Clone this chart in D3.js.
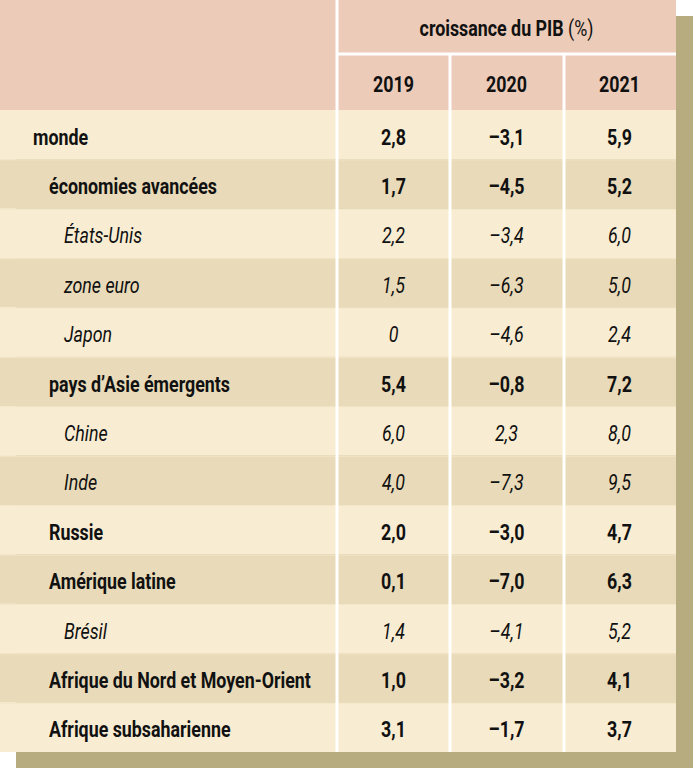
<!DOCTYPE html>
<html><head><meta charset="utf-8">
<script src="https://cdn.jsdelivr.net/npm/d3@7"></script>
<style>
html,body{margin:0;padding:0;background:#fff;}
svg{display:block;}
text{font-family:Roboto,"Noto Sans",sans-serif;fill:#111;}
</style></head>
<body>
<svg id="c" width="693" height="768"></svg>
<script>
const title = "croissance du PIB";
const titleUnit = " (%)";
const years = ["2019", "2020", "2021"];
const regions = ["monde","économies avancées","États-Unis","zone euro","Japon","pays d’Asie émergents","Chine","Inde","Russie","Amérique latine","Brésil","Afrique du Nord et Moyen-Orient","Afrique subsaharienne"];
const levels = [0,1,2,2,2,1,2,2,1,1,2,1,1];
const v2019 = ["2,8","1,7","2,2","1,5","0","5,4","6,0","4,0","2,0","0,1","1,4","1,0","3,1"];
const v2020 = ["–3,1","–4,5","–3,4","–6,3","–4,6","–0,8","2,3","–7,3","–3,0","–7,0","–4,1","–3,2","–1,7"];
const v2021 = ["5,9","5,2","6,0","5,0","2,4","7,2","8,0","9,5","4,7","6,3","5,2","4,1","3,7"];

const svg = d3.select("#c");
const W = 676, H = 752, off = 16;
const colX = [0, 337, 450, 564, W];
const headerH = 110, titleH = 54;
const FS = 22;
const y = d3.scaleBand().domain(d3.range(regions.length)).range([headerH, H]);
const xc = d3.scaleBand().domain(years).range([colX[1], W]);

// measure a condensed factor: the longest label spans ~262px in the reference
const probe = svg.append("text").attr("font-size",FS).attr("font-weight","bold").text(regions[11]);
const SX = 262 / probe.node().getComputedTextLength();
probe.remove();

function txt(g, x, yy, s, opts) {
  const gg = g.append("g").attr("transform", `translate(${x},${yy}) scale(${SX},1)`);
  const t = gg.append("text").attr("font-size", FS).attr("text-anchor", opts.anchor || "start")
    .attr("font-weight", opts.bold ? "bold" : "normal")
    .attr("font-style", opts.italic ? "italic" : "normal");
  if (typeof s === "string") t.text(s);
  return t;
}

// shadow
svg.append("rect").attr("x", off).attr("y", off).attr("width", 693-off).attr("height", 768-off).attr("fill", "#b7ab80");
// header
svg.append("rect").attr("x",0).attr("y",0).attr("width",W).attr("height",headerH).attr("fill","#eccbb9");
// rows
svg.selectAll("rect.row").data(regions).join("rect").attr("class","row")
  .attr("x",0).attr("y",(d,i)=>y(i)).attr("width",W).attr("height",y.bandwidth())
  .attr("fill",(d,i)=> i%2===0 ? "#f8edd3" : "#e9dbb9");
// faint row separators
svg.selectAll("line.sep").data(regions.slice(1)).join("line").attr("class","sep")
  .attr("x1",0).attr("x2",W).attr("y1",(d,i)=>y(i+1)+0.5).attr("y2",(d,i)=>y(i+1)+0.5)
  .attr("stroke","#f3e6c8").attr("stroke-width",1);
// white lines
const wl = svg.append("g").attr("stroke","#fff").attr("stroke-width",3);
wl.append("line").attr("x1",colX[1]).attr("x2",colX[1]).attr("y1",0).attr("y2",H);
[colX[2],colX[3]].forEach(x=>wl.append("line").attr("x1",x).attr("x2",x).attr("y1",titleH).attr("y2",H));
wl.append("line").attr("x1",colX[1]).attr("x2",W).attr("y1",titleH).attr("y2",titleH);

const g = svg.append("g");
// title
const t = txt(g, (colX[1]+W)/2, 36, null, {anchor:"middle"});
t.append("tspan").attr("font-weight","bold").text(title);
t.append("tspan").text(titleUnit);
// years
years.forEach(yr => txt(g, xc(yr)+xc.bandwidth()/2, 92, yr, {anchor:"middle", bold:true}));

// labels
const indent = [33,49,64];
regions.forEach((r,i) => txt(g, indent[levels[i]], y(i)+y.bandwidth()/2+10, r, {bold: levels[i]<2, italic: levels[i]===2}));

// values
const vals = [v2019, v2020, v2021];
years.forEach((yr,j)=>{
  vals[j].forEach((v,i)=> txt(g, xc(yr)+xc.bandwidth()/2, y(i)+y.bandwidth()/2+10, v, {anchor:"middle", bold: levels[i]<2, italic: levels[i]===2}));
});
</script>
</body></html>
